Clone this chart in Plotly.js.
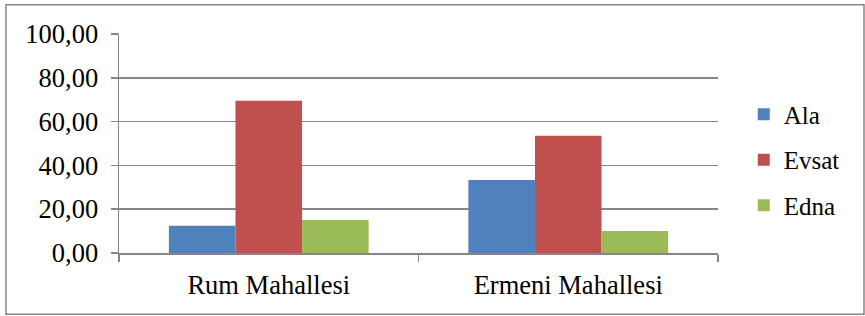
<!DOCTYPE html>
<html>
<head>
<meta charset="utf-8">
<script src="https://cdn.plot.ly/plotly-3.0.1.min.js"></script>
<style>html,body{margin:0;padding:0;background:#fff;}#chart{width:865px;height:316px;}</style>
</head>
<body>
<div id="chart"></div>
<script>
var categories = ["Rum Mahallesi", "Ermeni Mahallesi"];
var seriesNames = ["Ala", "Evsat", "Edna"];
var alaValues = [12.5, 33.3];
var evsatValues = [69.5, 53.5];
var ednaValues = [15.1, 10.0];
var seriesColors = ["#4F81BD", "#C0504D", "#9BBB59"];

var seriesValues = [alaValues, evsatValues, ednaValues];
var traces = seriesNames.map(function(name, i){
  return {
    type: "bar",
    name: name,
    x: categories,
    y: seriesValues[i],
    legendgroup: name,
    marker: {color: seriesColors[i], line: {width: 0}},
    hoverinfo: "none"
  };
});

var fam = "Liberation Serif";
var font = {family: fam, size: 26.5, color: "#000"};
var layout = {
  width: 865, height: 316,
  margin: {l: 119, r: 147, t: 33.5, b: 62.5, pad: 0},
  paper_bgcolor: "#fff", plot_bgcolor: "#fff",
  font: font,
  separators: ", ",
  barmode: "group",
  bargap: 0.333, bargroupgap: 0,
  showlegend: true,
  legend: {
    x: 1.043, xanchor: "left", y: 0.425, yanchor: "middle",
    font: {family: fam, size: 25, color: "#000"},
    traceorder: "grouped", tracegroupgap: 10,
    bgcolor: "rgba(0,0,0,0)", borderwidth: 0
  },
  xaxis: {
    type: "category",
    showgrid: false, zeroline: false,
    showline: true, linecolor: "#868686", linewidth: 1.5,
    ticks: "outside", tickson: "boundaries", ticklen: 7, tickcolor: "#868686", tickwidth: 1.5,
    tickfont: {family: fam, size: 26.5, color: "#000"}, ticklabelstandoff: 8,
    fixedrange: true
  },
  yaxis: {
    range: [0, 100], dtick: 20, tick0: 0, tickformat: ".2f",
    showgrid: true, gridcolor: "#868686", gridwidth: 1.5,
    zeroline: false,
    showline: true, linecolor: "#868686", linewidth: 1.5,
    ticks: "outside", ticklen: 7, tickcolor: "#868686", tickwidth: 1.5,
    tickfont: {family: fam, size: 26.5, color: "#000"}, ticklabelstandoff: 7,
    fixedrange: true
  },
  shapes: [{
    type: "rect", xref: "paper", yref: "paper",
    x0: (6 - 119) / 599, x1: (864 - 119) / 599,
    y0: (253.5 - 315) / 220, y1: (253.5 - 4) / 220,
    line: {color: "#868686", width: 1.5}, fillcolor: "rgba(0,0,0,0)", layer: "below"
  }]
};

Plotly.newPlot("chart", traces, layout, {displayModeBar: false, staticPlot: true});
</script>
</body>
</html>
